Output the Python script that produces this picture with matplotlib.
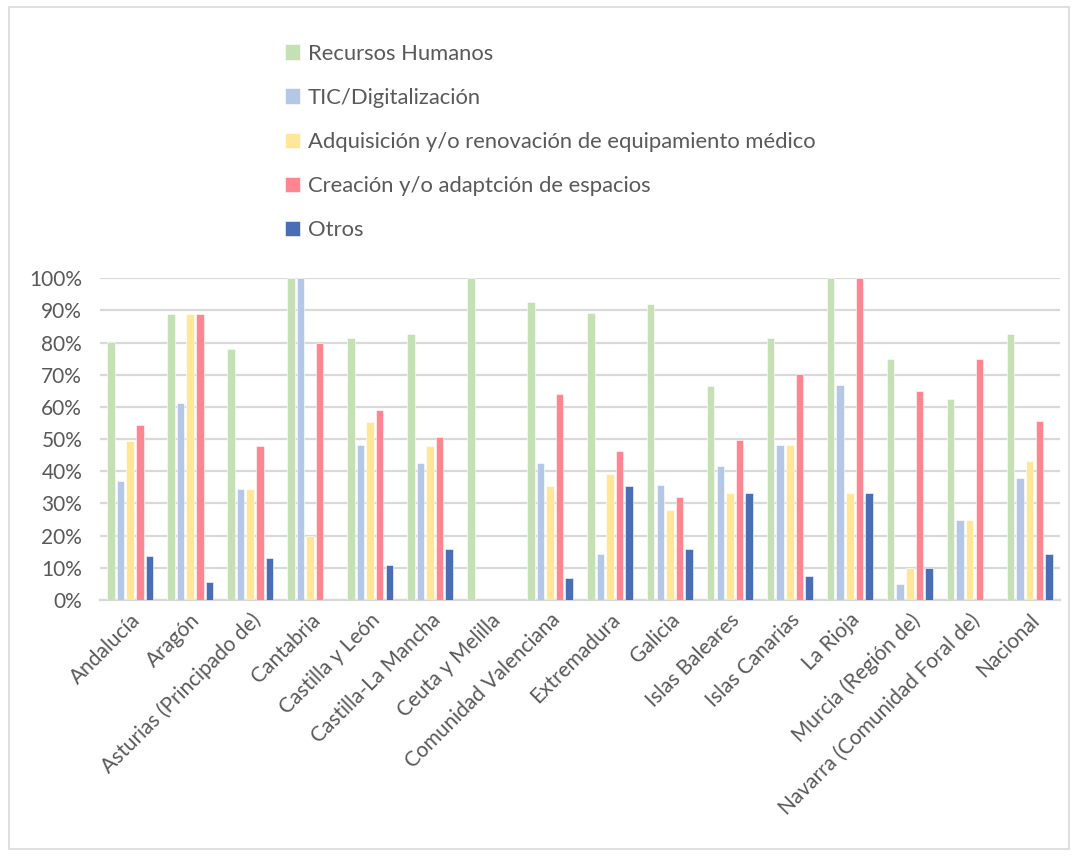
import numpy as np
import matplotlib
matplotlib.use("Agg")
import matplotlib.pyplot as plt
from matplotlib.patches import Rectangle
from matplotlib.ticker import PercentFormatter

# data (percent)
regiones = ["Andalucía", "Aragón", "Asturias (Principado de)", "Cantabria",
            "Castilla y León", "Castilla-La Mancha", "Ceuta y Melilla",
            "Comunidad Valenciana", "Extremadura", "Galicia", "Islas Baleares",
            "Islas Canarias", "La Rioja", "Murcia (Región de)",
            "Navarra (Comunidad Foral de)", "Nacional"]

recursos_humanos = [80.1, 88.8, 78.1, 100, 81.3, 82.6, 100, 92.7, 89.2, 92.0,
                    66.5, 81.5, 100, 75.0, 62.5, 82.7]
tic = [37.0, 61.1, 34.6, 100, 48.1, 42.5, 0, 42.7, 14.2, 35.9,
       41.6, 48.1, 66.7, 5.0, 25.0, 37.8]
adquisicion = [49.3, 88.8, 34.6, 20.0, 55.4, 47.9, 0, 35.4, 39.2, 28.0,
               33.3, 48.1, 33.3, 10.0, 25.0, 43.2]
creacion = [54.3, 88.8, 47.8, 80.0, 59.1, 50.6, 0, 64.1, 46.3, 31.9,
            49.8, 70.3, 100, 65.0, 75.0, 55.5]
otros = [13.6, 5.5, 13.0, 0, 11.0, 15.9, 0, 7.0, 35.5, 15.9,
         33.3, 7.4, 33.3, 10.0, 0, 14.4]

series = ["Recursos Humanos", "TIC/Digitalización",
          "Adquisición y/o renovación de equipamiento médico",
          "Creación y/o adaptción de espacios", "Otros"]
colores = ["#C5E0B4", "#B4C7E7", "#FFE699", "#FF8591", "#4A6EB6"]

plt.rcParams["font.family"] = ["Lato", "DejaVu Sans"]
texto = "#595959"

fig = plt.figure(figsize=(10.78, 8.56), dpi=100)
ax = fig.add_axes([0.093, 0.299, 0.890, 0.376])

x = np.arange(len(regiones))
paso = 0.16
ancho = 0.125
valores = [recursos_humanos, tic, adquisicion, creacion, otros]
for i, (vals, nombre, col) in enumerate(zip(valores, series, colores)):
    ax.bar(x + (i - 2) * paso, vals, width=ancho, color=col, label=nombre,
           edgecolor="white", linewidth=0.4, zorder=3)

ax.set_xlim(-0.5, len(regiones) - 0.5)
ax.set_ylim(0, 100)
ax.set_yticks(np.arange(0, 101, 10))
ax.yaxis.set_major_formatter(PercentFormatter(decimals=0))
ax.grid(axis="y", color="#D9D9D9", linewidth=1.6, zorder=0)
for s in ["top", "right", "left"]:
    ax.spines[s].set_visible(False)
ax.spines["bottom"].set_color("#D9D9D9")
ax.spines["bottom"].set_linewidth(1.6)
ax.tick_params(axis="y", length=0, labelsize=15, colors=texto, pad=13)
ax.tick_params(axis="x", length=0, colors=texto, pad=7)
ax.set_xticks(x)
ax.set_xticklabels(regiones, rotation=45, ha="right", rotation_mode="anchor",
                   fontsize=15, color=texto)

handles, labels = ax.get_legend_handles_labels()
leg = fig.legend(handles, labels, loc="upper left",
                 bbox_to_anchor=(0.246, 0.972), frameon=False,
                 fontsize=15.8, labelcolor=texto, handlelength=0.7,
                 handleheight=0.7, handletextpad=0.35, labelspacing=1.1)

fig.patches.append(Rectangle((0.008, 0.008), 0.984, 0.984,
                             transform=fig.transFigure, fill=False,
                             edgecolor="#D9D9D9", linewidth=1.2))

fig.savefig("out.png", dpi=100)
